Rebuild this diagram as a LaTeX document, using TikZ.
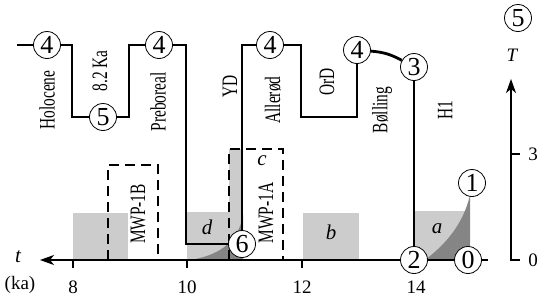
\documentclass[tikz,border=0pt]{standalone}
\usepackage{fontspec}
\setmainfont{Liberation Serif}
\usetikzlibrary{arrows.meta}
\begin{document}
\begin{tikzpicture}[x=1pt,y=-1pt,
  stage/.style={circle,draw,line width=0.8pt,fill=white,inner sep=0pt,minimum size=27pt,font=\fontsize{26}{26}\selectfont},
  period/.style={rotate=90,xscale=0.7,font=\fontsize{22}{22}\selectfont},
  trace/.style={line width=2.8pt},
  mwp/.style={line width=2.4pt,dash pattern=on 10pt off 6pt},
  axis/.style={line width=1.2pt},
  pale/.style={fill=black!20},
  deep/.style={fill=black!48},
  tip/.style={-{Stealth[length=14pt,width=10pt,inset=4pt]}}]
     \useasboundingbox (0,0) rectangle (550,300);
     % grey boxes
     \fill[pale] (73,213) rectangle (128,260);
     \fill[pale] (187,212) rectangle (243,260);
     \fill[pale] (229,149) rectangle (243,212);
     \fill[pale] (303,213) rectangle (359,260);
     \fill[pale] (414,211) rectangle (470,260);
     \fill[deep] (190,260) .. controls (215,256) and (238,245) .. (243,215) -- (243,260) -- cycle;
     \fill[deep] (425,260) .. controls (438,250) and (462,230) .. (470,195) -- (470,260) -- cycle;
     \node[font=\fontsize{21}{21}\selectfont\itshape] (la) at (437,229){a};
     \node[font=\fontsize{21}{21}\selectfont\itshape] (lb) at (331,232){b};
     \node[font=\fontsize{21}{21}\selectfont\itshape] (lc) at (262,161){c};
     \node[font=\fontsize{21}{21}\selectfont\itshape] (ld) at (207,227){d};
     % meltwater pulses
     \draw[mwp] (108,260) -- (108,165) -- (158,165) -- (158,260);
     \draw[mwp] (229,260) -- (229,149) -- (283,149) -- (283,260);
     \node[period] (mwpb) at (138,214){MWP-1B};
     \node[period] (mwpa) at (266,213){MWP-1A};
     % axes
     \coordinate (tend) at (40,260);
     \coordinate (Tend) at (511,79);
     \coordinate (Tfoot) at (520,260);
     \foreach \t/\x in {8/73,10/187,12/302,14/416}{
       \draw[axis] (\x,260) -- (\x,268);
       \node[font=\fontsize{19}{19}\selectfont] (tick\t) at (\x,287){\t};
     }
     \node[font=\fontsize{19}{19}\selectfont] (ka) at (20,285){(ka)};
     \node[font=\fontsize{21}{21}\selectfont\itshape] (tlab) at (18,257){t};
     \draw[axis] (511,154) -- (520,154);
     \draw[axis,tip] (Tfoot) -- (511,260) -- (Tend);
     \node[font=\fontsize{19}{19}\selectfont] (T3) at (533,154){3};
     \node[font=\fontsize{19}{19}\selectfont] (T0) at (533,260){0};
     \node[font=\fontsize{19}{19}\selectfont\itshape] (Tlab) at (512,55){T};
     % states
     \node[stage] (n4a) at (47,45){4};
     \node[stage] (n5a) at (103,117){5};
     \node[stage] (n4b) at (159,45){4};
     \node[stage] (n6) at (242,244){6};
     \node[stage] (n4c) at (270,45){4};
     \node[stage] (n4d) at (357,50){4};
     \node[stage] (n3) at (414,67){3};
     \node[stage] (n2) at (414,260){2};
     \node[stage] (n0) at (468,260){0};
     \node[stage] (n1) at (472,183){1};
     \node[stage] (n5T) at (518,18){5};
     \draw[axis,tip] (n2) -- (tend);
     \coordinate (head) at (17,45);
     \coordinate (tail) at (488,260);
     \draw[trace] (head) -- (n4a);
     \draw[trace] (n4a) -- ++(25,0) |- (n5a);
     \draw[trace] (n5a) -- ++(26,0) |- (n4b);
     \draw[trace] (n4b) -- ++(27,0) |- (n6);
     \draw[trace] (n6) |- (n4c);
     \draw[trace] (n4c) -- ++(31,0) -- ++(0,72) -| (n4d);
     \draw[trace] (n4d) to[bend left=12] (n3);
     \draw[trace] (n3) -- (n2);
     \draw[trace] (n2) -- (n0);
     \draw[trace] (n0) -- (tail);
     % periods
     \node[period] (holo) at (47,100){Holocene};
     \node[period] (ka82) at (100,71){8.2 Ka};
     \node[period] (preb) at (158,102){Preboreal};
     \node[period] (yd) at (230,86){YD};
     \node[period] (alle) at (273,100){Allerød};
     \node[period] (ord) at (327,82){OrD};
     \node[period] (boll) at (382,110){Bølling};
     \node[period] (hone) at (445,110){H1};
\end{tikzpicture}
\end{document}
